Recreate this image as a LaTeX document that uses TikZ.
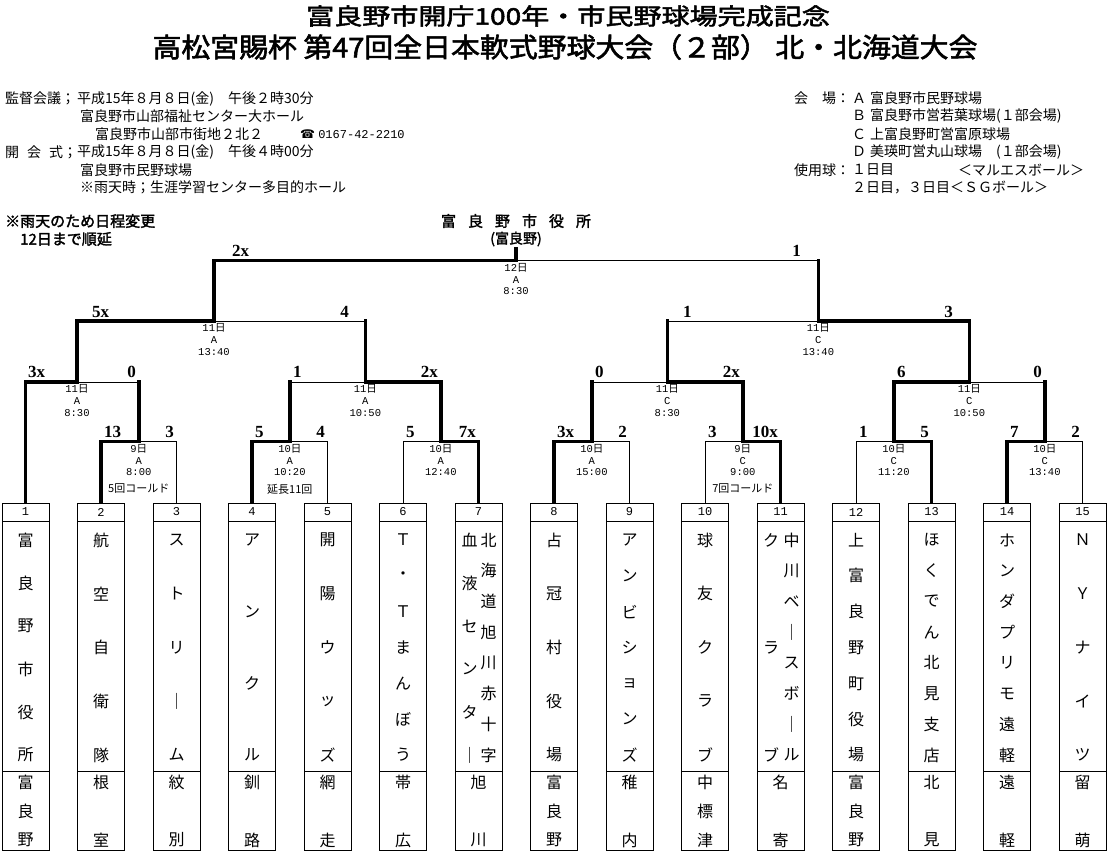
\documentclass[tikz,border=0pt]{standalone}
\usepackage{fontspec}
\setmainfont{Liberation Serif}
\newfontfamily\jp{Noto Sans CJK JP}
\newfontfamily\jpb{Noto Sans CJK JP}[FakeBold=2]
\newfontfamily\mono{Liberation Mono}
\newfontfamily\djv{DejaVu Sans}
\newcommand\vcol[6]{\foreach \chr [count=\k] in {#6}{\node[nch] (#1-\k) at ({#2},{#3+(\k-1)*(#4-#3)/(#5-1)}) {\chr};}}
\newcommand\cells[2]{%
  \node[numcell] (nb#1) at (#2,512) {#1};
  \node[namecell] (nm#1) at (#2,646) {};
  \node[homecell] (nh#1) at (#2,810.5) {};}
\newcommand\team[6]{\cells{#1}{#2}%
  \vcol{na#1}{#2}{540}{755}{#3}{#4}%
  \vcol{ho#1}{#2}{782}{840}{#5}{#6}}
\newcommand\dd{{\jp 日}}
\begin{document}
\begin{tikzpicture}[x=1pt,y=-1pt,
  win/.style={line width=3.5pt,line cap=rect},
  los/.style={line width=1pt},
  cell/.style={draw,line width=1pt,inner sep=0pt,minimum width=47pt},
  numcell/.style={cell,minimum height=18pt,font=\mono\fontsize{12}{12}\selectfont},
  namecell/.style={cell,minimum height=250pt},
  homecell/.style={cell,minimum height=79pt},
  nch/.style={inner sep=0pt,font=\jp\fontsize{16}{16}\selectfont},
  sc/.style={inner sep=0pt,font=\fontsize{17}{17}\selectfont\bfseries},
  dt/.style={inner sep=0pt,anchor=north,align=center,yshift=-2.5pt,font=\mono\fontsize{10.5}{11.8}\selectfont},
  nt/.style={inner sep=0pt,font=\jp\fontsize{11}{11}\selectfont},
  info/.style={inner sep=0pt,anchor=west,font=\jp\fontsize{14}{14}\selectfont},
  bnote/.style={inner sep=0pt,anchor=west,font=\jpb\fontsize{15}{15}\selectfont},
]
\fill[white] (0,0) rectangle (1108,852);
\useasboundingbox (0,0) rectangle (1108,852);

% titles
\node[inner sep=0pt,xscale=1.22,font=\jpb\fontsize{23}{23}\selectfont] (t1) at (568,16) {富良野市開庁100年・市民野球場完成記念};
\node[inner sep=0pt,xscale=1.07,font=\jpb\fontsize{27}{27}\selectfont] (t2) at (565,47) {高松宮賜杯 第47回全日本軟式野球大会（２部） 北・北海道大会};

% left info
\node[info] (i1) at (5,98.5) {監督会議；};
\node[info] (i1b) at (77,98.5) {平成15年８月８日(金)　午後２時30分};
\node[info] (i2) at (80,116.3) {富良野市山部福祉センター大ホール};
\node[info] (i3) at (95,134.1) {富良野市山部市街地２北２};
\node[info] (i3b) at (300,134.1) {{\djv\fontsize{12}{12}\selectfont ☎} {\mono\fontsize{12}{12}\selectfont 0167-42-2210}};
\node[info] (i4) at (5,151.9) {開\hspace{8pt}会\hspace{8pt}式；};
\node[info] (i4b) at (77,151.9) {平成15年８月８日(金)　午後４時00分};
\node[info] (i5) at (80,169.7) {富良野市民野球場};
\node[info] (i6) at (80,187.5) {※雨天時；生涯学習センター多目的ホール};

% right info
\node[info] (j1) at (794,98.5) {会　場：};
\node[info] (j1b) at (852,98.5) {Ａ\hspace{4pt}富良野市民野球場};
\node[info] (j2) at (852,116.3) {Ｂ\hspace{4pt}富良野市営若葉球場(１部会場)};
\node[info] (j3) at (852,134.1) {Ｃ\hspace{4pt}上富良野町営富原球場};
\node[info] (j4) at (852,151.9) {Ｄ\hspace{4pt}美瑛町営丸山球場　(１部会場)};
\node[info] (j5) at (794,169.7) {使用球：};
\node[info] (j5b) at (852,169.7) {１日目};
\node[info] (j5c) at (958,169.7) {＜マルエスボール＞};
\node[info] (j6) at (852,187.5) {２日目，３日目＜ＳＧボール＞};

% rain note
\node[bnote] (rn1) at (5,221) {※雨天のため日程変更};
\node[bnote] (rn2) at (20,239) {12日まで順延};

% champion
\node[inner sep=0pt,font=\jpb\fontsize{15}{15}\selectfont] (ch1) at (516,221) {富\hspace{12pt}良\hspace{12pt}野\hspace{12pt}市\hspace{12pt}役\hspace{12pt}所};
\node[inner sep=0pt,font=\jpb\fontsize{14}{14}\selectfont] (ch2) at (516,239) {(富良野)};
\coordinate (champ) at (516,249);

% teams
\team{1}{25.5}{6}{富,良,野,市,役,所}{3}{富,良,野}
\team{2}{101}{5}{航,空,自,衛,隊}{2}{根,室}
\team{3}{176.5}{5}{ス,ト,リ,｜,ム}{2}{紋,別}
\team{4}{252}{4}{ア,ン,ク,ル}{2}{釧,路}
\team{5}{327.5}{5}{開,陽,ウ,ッ,ズ}{2}{網,走}
\team{6}{403}{7}{Ｔ,・,Ｔ,ま,ん,ぼ,う}{2}{帯,広}
\cells{7}{478.5}
\vcol{na7r}{488.5}{540}{755}{8}{北,海,道,旭,川,赤,十,字}
\vcol{na7l}{469.5}{540}{755}{6}{血,液,セ,ン,タ,｜}
\vcol{ho7}{478.5}{782}{840}{2}{旭,川}
\team{8}{554}{5}{占,冠,村,役,場}{3}{富,良,野}
\team{9}{629.5}{7}{ア,ン,ビ,シ,ョ,ン,ズ}{2}{稚,内}
\team{10}{705}{5}{球,友,ク,ラ,ブ}{3}{中,標,津}
\cells{11}{780.5}
\vcol{na11r}{791.5}{540}{755}{8}{中,川,ベ,｜,ス,ボ,｜,ル}
\vcol{na11l}{771}{540}{755}{3}{ク,ラ,ブ}
\vcol{ho11}{780.5}{782}{840}{2}{名,寄}
\team{12}{856}{7}{上,富,良,野,町,役,場}{3}{富,良,野}
\team{13}{931.5}{8}{ほ,く,で,ん,北,見,支,店}{2}{北,見}
\team{14}{1007}{8}{ホ,ン,ダ,プ,リ,モ,遠,軽}{2}{遠,軽}
\team{15}{1082.5}{5}{Ｎ,Ｙ,ナ,イ,ツ}{2}{留,萌}

% match points
\coordinate (m23) at (138.8,441.5);
\coordinate (m45) at (289.8,441.5);
\coordinate (m67) at (440.8,441.5);
\coordinate (m89) at (591.8,441.5);
\coordinate (m1011) at (742.8,441.5);
\coordinate (m1213) at (893.8,441.5);
\coordinate (m1415) at (1044.8,441.5);
\coordinate (r1) at (77,382);
\coordinate (r2) at (365.3,382);
\coordinate (r3) at (667.3,382);
\coordinate (r4) at (969.3,382);
\coordinate (s1) at (214,321);
\coordinate (s2) at (818.3,321);
\coordinate (f) at (516,260.5);

% round 1
\draw[win] (nb2.north) |- (m23);   \draw[los] (nb3.north) |- (m23);
\draw[win] (nb4.north) |- (m45);   \draw[los] (nb5.north) |- (m45);
\draw[los] (nb6.north) |- (m67);   \draw[win] (nb7.north) |- (m67);
\draw[win] (nb8.north) |- (m89);   \draw[los] (nb9.north) |- (m89);
\draw[los] (nb10.north) |- (m1011); \draw[win] (nb11.north) |- (m1011);
\draw[los] (nb12.north) |- (m1213); \draw[win] (nb13.north) |- (m1213);
\draw[win] (nb14.north) |- (m1415); \draw[los] (nb15.north) |- (m1415);
% round 2
\draw[win] (nb1.north) |- (r1);
\draw[win] (m23) -- (m23 |- r1);  \draw[los] (m23 |- r1) -- (r1);
\draw[win] (m45) -- (m45 |- r2);  \draw[los] (m45 |- r2) -- (r2);
\draw[win] (m67) |- (r2);
\draw[win] (m89) -- (m89 |- r3);  \draw[los] (m89 |- r3) -- (r3);
\draw[win] (m1011) |- (r3);
\draw[win] (m1213) |- (r4);
\draw[win] (m1415) -- (m1415 |- r4); \draw[los] (m1415 |- r4) -- (r4);
% semis
\draw[win] (r1) |- (s1);
\draw[win] (r2) -- (r2 |- s1);  \draw[los] (r2 |- s1) -- (s1);
\draw[win] (r3) -- (r3 |- s2);  \draw[los] (r3 |- s2) -- (s2);
\draw[win] (r4) |- (s2);
% final
\draw[win] (s1) |- (f);
\draw[win] (s2) -- (s2 |- f);  \draw[los] (s2 |- f) -- (f);
\draw[win] (f) -- (champ);

% scores
\node[sc,anchor=base west] (a23) at (104,437) {13};
\node[sc,anchor=base east] (b23) at (174,437) {3};
\node[sc,anchor=base west] (a45) at (255,437) {5};
\node[sc,anchor=base east] (b45) at (325,437) {4};
\node[sc,anchor=base west] (a67) at (406,437) {5};
\node[sc,anchor=base east] (b67) at (476,437) {7x};
\node[sc,anchor=base west] (a89) at (557,437) {3x};
\node[sc,anchor=base east] (b89) at (627,437) {2};
\node[sc,anchor=base west] (a1011) at (708,437) {3};
\node[sc,anchor=base east] (b1011) at (778,437) {10x};
\node[sc,anchor=base west] (a1213) at (859,437) {1};
\node[sc,anchor=base east] (b1213) at (929,437) {5};
\node[sc,anchor=base west] (a1415) at (1010,437) {7};
\node[sc,anchor=base east] (b1415) at (1080,437) {2};
\node[sc,anchor=base west] (ar1) at (28,377) {3x};
\node[sc,anchor=base east] (br1) at (136,377) {0};
\node[sc,anchor=base west] (ar2) at (293,377) {1};
\node[sc,anchor=base east] (br2) at (438,377) {2x};
\node[sc,anchor=base west] (ar3) at (595,377) {0};
\node[sc,anchor=base east] (br3) at (740,377) {2x};
\node[sc,anchor=base west] (ar4) at (897,377) {6};
\node[sc,anchor=base east] (br4) at (1042,377) {0};
\node[sc,anchor=base west] (as1) at (92,317) {5x};
\node[sc,anchor=base east] (bs1) at (349,317) {4};
\node[sc,anchor=base west] (as2) at (683,317) {1};
\node[sc,anchor=base east] (bs2) at (953,317) {3};
\node[sc,anchor=base west] (af) at (232,256) {2x};
\node[sc,anchor=base east] (bf) at (801,256) {1};

% dates
\node[dt] (d23) at (m23) {9\dd\\A\\8:00};
\node[dt] (d45) at (m45) {10\dd\\A\\10:20};
\node[dt] (d67) at (m67) {10\dd\\A\\12:40};
\node[dt] (d89) at (m89) {10\dd\\A\\15:00};
\node[dt] (d1011) at (m1011) {9\dd\\C\\9:00};
\node[dt] (d1213) at (m1213) {10\dd\\C\\11:20};
\node[dt] (d1415) at (m1415) {10\dd\\C\\13:40};
\node[dt] (dr1) at (r1) {11\dd\\A\\8:30};
\node[dt] (dr2) at (r2) {11\dd\\A\\10:50};
\node[dt] (dr3) at (r3) {11\dd\\C\\8:30};
\node[dt] (dr4) at (r4) {11\dd\\C\\10:50};
\node[dt] (ds1) at (s1) {11\dd\\A\\13:40};
\node[dt] (ds2) at (s2) {11\dd\\C\\13:40};
\node[dt] (df) at (f) {12\dd\\A\\8:30};

% notes
\node[nt] (n23) at (138.8,489) {5回コールド};
\node[nt] (n45) at (289.8,489) {延長11回};
\node[nt] (n1011) at (742.8,489) {7回コールド};
\end{tikzpicture}
\end{document}
